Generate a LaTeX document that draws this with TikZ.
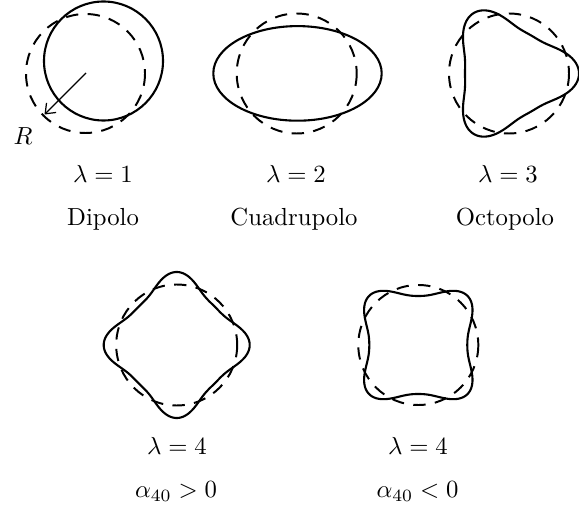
\documentclass[tikz,border=0pt]{standalone}
\usepackage{amsmath}
\usetikzlibrary{arrows.meta}
\begin{document}
\begin{tikzpicture}[x=0.405pt,y=-0.405pt,
  outline/.style={line width=0.85pt,line join=round},
  refcircle/.style={line width=0.8pt,dash pattern=on 5.0pt off 3.8pt},
  lab/.style={anchor=base,inner sep=0pt,font=\fontsize{10}{12}\selectfont},
  radius arrow/.style={line width=0.5pt,-{Straight Barb[length=3.5pt,width=5.5pt]}}]
\useasboundingbox (0,0) rectangle (579,508);
% ---- lambda = 1 : dipolo
\draw[refcircle] (85.5,73.5) circle[radius=59.5];
\draw[outline] (103.5,61) circle[radius=59.5];
\coordinate (c1) at (86,73);
\coordinate (e1) at (44.5,114.5);
\draw[radius arrow] (c1) -- (e1);
\node[lab] (R) at (23,145) {$R$};
\node[lab] (l1) at (103,183) {$\lambda=1$};
\node[lab] (n1) at (103,226) {Dipolo};
% ---- lambda = 2 : cuadrupolo
\draw[refcircle] (296.7,73.5) circle[radius=60];
\draw[outline] (297.5,73.4) ellipse[x radius=84.2,y radius=47.3];
\node[lab] (l2) at (296,183) {$\lambda=2$};
\node[lab] (n2) at (294,226) {Cuadrupolo};
% ---- lambda = 3 : octopolo
\draw[refcircle] (509,73.5) circle[radius=60];
\draw[outline] plot[domain=0:360,samples=361,variable=\t]
  ({509+(54.67+13*cos(3*\t)+2.33*cos(6*\t))*cos(\t)},
   {73.5+(54.67+13*cos(3*\t)+2.33*cos(6*\t))*sin(\t)}) -- cycle;
\node[lab] (l3) at (508,183) {$\lambda=3$};
\node[lab] (n3) at (505,226) {Octopolo};
% ---- lambda = 4, alpha > 0
\draw[refcircle] (176.7,345) circle[radius=60.5];
\draw[outline] plot[domain=0:360,samples=361,variable=\t]
  ({176.7+(61.75+9.5*cos(4*\t)+1.75*cos(8*\t))*cos(\t)},
   {345+(61.75+9.5*cos(4*\t)+1.75*cos(8*\t))*sin(\t)}) -- cycle;
\node[lab] (l4) at (177,455) {$\lambda=4$};
\node[lab] (a4) at (176,498) {$\alpha_{40}>0$};
% ---- lambda = 4, alpha < 0
\draw[refcircle] (418.3,345) circle[radius=60];
\draw[outline] plot[domain=0:360,samples=361,variable=\t]
  ({418.3+(57.9-10.25*cos(4*\t)+1.34*cos(8*\t))*cos(\t)},
   {345+(57.9-10.25*cos(4*\t)+1.34*cos(8*\t))*sin(\t)}) -- cycle;
\node[lab] (l5) at (418,455) {$\lambda=4$};
\node[lab] (a5) at (417.5,498) {$\alpha_{40}<0$};
\end{tikzpicture}
\end{document}
